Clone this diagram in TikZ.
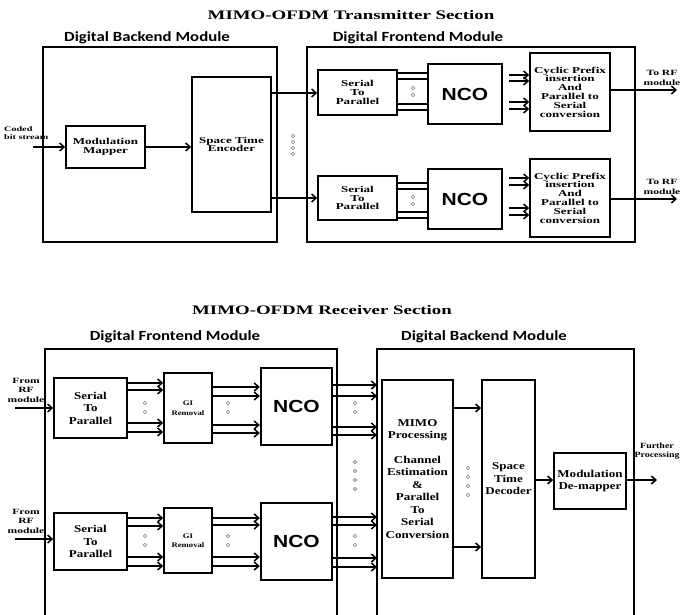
\documentclass[tikz,border=0pt]{standalone}
\usepackage{fontspec}
\setmainfont{Liberation Serif}
\newfontfamily\tserif[FakeStretch=1.45]{Liberation Serif}
\newfontfamily\wserif[FakeStretch=1.45]{Liberation Serif}
\newfontfamily\mserif[FakeStretch=1.24]{Liberation Serif}
\newfontfamily\calib[FakeStretch=1.2]{Carlito}
\newfontfamily\arialf[FakeStretch=1.2]{Liberation Sans}
\usetikzlibrary{arrows.meta}
\tikzset{
  module/.style={draw, line width=1.6pt},
  modlabel/.style={font=\calib\bfseries\fontsize{14}{15}\selectfont},
  title/.style={font=\tserif\bfseries\fontsize{13}{14}\selectfont},
  blk/.style={draw, line width=1.6pt, inner sep=1pt, align=center},
  tblk/.style={blk, font=\wserif\bfseries\fontsize{9}{8.8}\selectfont},
  rblk/.style={blk, font=\mserif\bfseries\fontsize{10.5}{12.5}\selectfont},
  giblk/.style={blk, font=\mserif\bfseries\fontsize{7}{9.5}\selectfont},
  ncobox/.style={blk, line width=2.4pt, font=\arialf\bfseries\fontsize{17.5}{18}\selectfont},
  side/.style={align=center, font=\wserif\bfseries\fontsize{8}{9.5}\selectfont},
  wire/.style={line width=1.5pt},
  arr/.style={wire, -{Straight Barb[length=4.5pt,width=8pt,line width=1.5pt]}},
  dotc/.style={draw=gray, line width=0.6pt}
}
\begin{document}
\begin{tikzpicture}[x=1pt,y=-1pt]
\fill[white] (0,0) rectangle (682,614);
\useasboundingbox (0,0) rectangle (682,614);

%% ---------------- Transmitter ----------------
\node[title] (ttitle) at (351,15) {MIMO-OFDM Transmitter Section};
\draw[module] (43,47) rectangle (277,242);
\node[modlabel] (tbelab) at (147,38) {Digital Backend Module};
\draw[module] (307,47) rectangle (635,242);
\node[modlabel] (tfelab) at (418,38) {Digital Frontend Module};

\node[tblk, minimum width=79pt, minimum height=42pt] (MM) at (105.5,147) {Modulation\\Mapper};
\node[tblk, minimum width=79pt, minimum height=135pt] (STE) at (231.5,144.5) {Space Time\\Encoder};
\node[tblk, minimum width=79pt, minimum height=45pt] (TS1) at (357.5,92.5) {Serial\\To\\Parallel};
\node[ncobox, minimum width=74pt, minimum height=60pt] (TN1) at (465,94) {NCO};
\node[tblk, minimum width=80pt, minimum height=78pt] (CP1) at (570,92) {Cyclic Prefix\\insertion\\And\\Parallel to\\Serial\\conversion};
\node[tblk, minimum width=79pt, minimum height=44pt] (TS2) at (357.5,198) {Serial\\To\\Parallel};
\node[ncobox, minimum width=74pt, minimum height=60pt] (TN2) at (465,199) {NCO};
\node[tblk, minimum width=80pt, minimum height=78pt] (CP2) at (570,198) {Cyclic Prefix\\insertion\\And\\Parallel to\\Serial\\conversion};

\node[side, align=left, anchor=west, inner sep=0pt, font=\wserif\bfseries\fontsize{7}{8.5}\selectfont] (cbs) at (4,133) {Coded\\bit stream};
\coordinate (cin) at (33,147);
\draw[arr] (cin) -- (MM.west);
\draw[arr] (MM.east) -- (STE.west |- MM.east);
\draw[arr] (STE.east |- 0,93) -- (TS1.west |- 0,93);
\draw[arr] (STE.east |- 0,198) -- (TS2.west);
\foreach \y in {136,142,148,154} \draw[dotc] (293,\y) circle (1.8pt);

\foreach \y in {73,79,104,110} \draw[wire] (TS1.east |- 0,\y) -- (TN1.west |- 0,\y);
\foreach \y in {88,95} \draw[dotc] (413,\y) circle (1.8pt);
\foreach \y in {75,81,102,109} \draw[arr, shorten <=6pt] (TN1.east |- 0,\y) -- (CP1.west |- 0,\y);
\coordinate (tout1) at (677,90);
\draw[arr] (CP1.east |- tout1) -- (tout1);
\node[side] (trf1) at (662,78) {To RF\\module};

\foreach \y in {183,189,212,218} \draw[wire] (TS2.east |- 0,\y) -- (TN2.west |- 0,\y);
\foreach \y in {197,204} \draw[dotc] (413,\y) circle (1.8pt);
\foreach \y in {178,185,208,215} \draw[arr, shorten <=6pt] (TN2.east |- 0,\y) -- (CP2.west |- 0,\y);
\coordinate (tout2) at (677,199);
\draw[arr] (CP2.east |- tout2) -- (tout2);
\node[side] (trf2) at (662,187) {To RF\\module};

%% ---------------- Receiver ----------------
\node[title] (rtitle) at (322,310) {MIMO-OFDM Receiver Section};
\draw[module] (45,616) -- (45,349) -- (337,349) -- (337,616);
\node[modlabel] (rfelab) at (175,337) {Digital Frontend Module};
\draw[module] (377,616) -- (377,349) -- (634,349) -- (634,616);
\node[modlabel] (rbelab) at (484,337) {Digital Backend Module};
\coordinate (rbein) at (377,349);

\node[rblk, minimum width=73pt, minimum height=60pt] (RS1) at (90.5,408) {Serial\\To\\Parallel};
\node[giblk, minimum width=48pt, minimum height=70pt] (GI1) at (188,408) {GI\\Removal};
\node[ncobox, minimum width=71pt, minimum height=77pt] (RN1) at (296.5,406.5) {NCO};
\node[rblk, minimum width=73pt, minimum height=57pt] (RS2) at (90.5,541.5) {Serial\\To\\Parallel};
\node[giblk, minimum width=48pt, minimum height=65pt] (GI2) at (188,540.5) {GI\\Removal};
\node[ncobox, minimum width=71pt, minimum height=77pt] (RN2) at (296.5,541.5) {NCO};

\node[rblk, minimum width=71pt, minimum height=198pt] (MIMO) at (417.5,479) {MIMO\\Processing\\[12pt]Channel\\Estimation\\\&\\Parallel\\To\\Serial\\Conversion};
\node[rblk, minimum width=53pt, minimum height=198pt] (STD) at (508.5,479) {Space\\Time\\Decoder};
\node[rblk, minimum width=72pt, minimum height=56pt] (MD) at (590,481) {Modulation\\De-mapper};

\node[side] (frf1) at (26,390) {From\\RF\\module};
\node[side] (frf2) at (26,521) {From\\RF\\module};
\coordinate (rin1) at (15,408);
\coordinate (rin2) at (15,539);
\draw[arr] (rin1) -- (RS1.west |- rin1);
\draw[arr] (rin2) -- (RS2.west |- rin2);

\foreach \y in {383,390,423,432} \draw[arr] (RS1.east |- 0,\y) -- (GI1.west |- 0,\y);
\foreach \y in {387,396,425,433} \draw[arr] (GI1.east |- 0,\y) -- (RN1.west |- 0,\y);
\foreach \y in {385,396,427,435} \draw[arr] (RN1.east |- 0,\y) -- (rbein |- 0,\y);
\foreach \y in {518,526,557,566} \draw[arr] (RS2.east |- 0,\y) -- (GI2.west |- 0,\y);
\foreach \y in {518,525,557,566} \draw[arr] (GI2.east |- 0,\y) -- (RN2.west |- 0,\y);
\foreach \y in {517,525,558,567} \draw[arr] (RN2.east |- 0,\y) -- (rbein |- 0,\y);
\foreach \x in {145,228,355} {
  \foreach \y in {403,412,536,545} \draw[dotc] (\x,\y) circle (1.8pt);
}
\foreach \y in {462,471,480,489} \draw[dotc] (355,\y) circle (1.6pt);
\foreach \y in {468,477,486,495} \draw[dotc] (468,\y) circle (1.8pt);

\draw[arr] (MIMO.east |- 0,408) -- (STD.west |- 0,408);
\draw[arr] (MIMO.east |- 0,547) -- (STD.west |- 0,547);
\draw[arr] (STD.east |- 0,480) -- (MD.west |- 0,480);
\coordinate (rout) at (657,480);
\draw[arr] (MD.east |- rout) -- (rout);
\node[side, font=\mserif\bfseries\fontsize{8}{9.5}\selectfont] (fp) at (657,451) {Further\\Processing};
\end{tikzpicture}
\end{document}
